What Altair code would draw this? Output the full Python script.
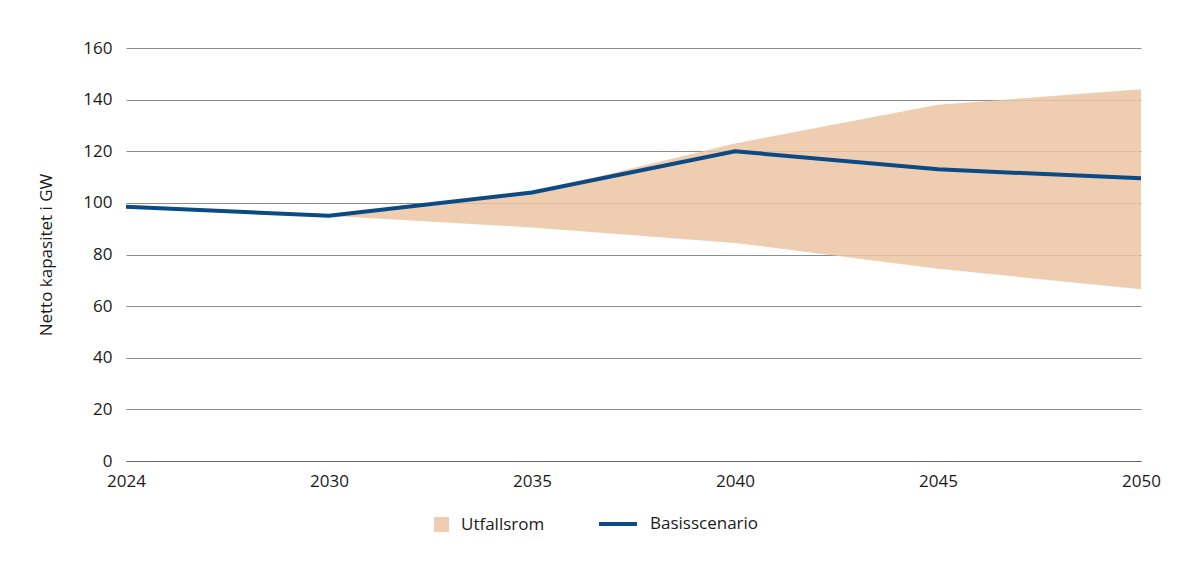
import altair as alt
import pandas as pd

years = ["2024", "2030", "2035", "2040", "2045", "2050"]
basis = [98.5, 95, 104, 120, 113, 109.5]
lower = [98.5, 95, 90.5, 84.5, 74.5, 66.5]
upper = [98.5, 95, 104, 123, 138, 144]
y_ticks = [0, 20, 40, 60, 80, 100, 120, 140, 160]

df = pd.DataFrame({
    "year": years,
    "basis": basis,
    "lower": lower,
    "upper": upper,
    "s1": ["Utfallsrom"] * len(years),
    "s2": ["Basisscenario"] * len(years),
})

FONT = "Open Sans"

x_enc = alt.X(
    "year:O",
    sort=years,
    scale=alt.Scale(type="point", padding=0),
    axis=alt.Axis(
        title=None, labelAngle=0, grid=False, ticks=False, domain=True,
        domainColor="#666666", labelFontSize=17, labelPadding=12,
        labelColor="#1a1a1a", labelFont=FONT,
    ),
)

y_scale = alt.Scale(domain=[0, 160], nice=False)
y_axis = alt.Axis(
    values=y_ticks, grid=True, gridColor="#8c8c8c", ticks=False, domain=False,
    labelFontSize=17, labelPadding=14, labelColor="#1a1a1a", labelFont=FONT,
    title="Netto kapasitet i GW", titleFontSize=17, titleFontWeight="normal",
    titleFont=FONT, titleColor="#1a1a1a", titlePadding=27,
)

area = alt.Chart(df).mark_area(opacity=0.85).encode(
    x=x_enc,
    y=alt.Y("lower:Q", scale=y_scale, axis=y_axis),
    y2="upper:Q",
    fill=alt.Fill(
        "s1:N",
        scale=alt.Scale(domain=["Utfallsrom"], range=["#ecc4a2"]),
        legend=alt.Legend(
            title=None, orient="none", legendX=307, legendY=468,
            symbolType="square", symbolSize=225, symbolStrokeWidth=0,
            labelFontSize=17, labelFont=FONT, labelColor="#1a1a1a",
            labelOffset=11, padding=0,
        ),
    ),
)

line = alt.Chart(df).mark_line(strokeWidth=4).encode(
    x=x_enc,
    y=alt.Y("basis:Q", scale=y_scale, axis=y_axis),
    stroke=alt.Stroke(
        "s2:N",
        scale=alt.Scale(domain=["Basisscenario"], range=["#0b4a85"]),
        legend=alt.Legend(
            title=None, orient="none", legendX=471, legendY=455,
            symbolType="stroke", symbolSize=1444, symbolStrokeWidth=4,
            labelFontSize=17, labelFont=FONT, labelColor="#1a1a1a",
            labelOffset=11, padding=0,
        ),
    ),
)

chart = alt.layer(area, line).resolve_scale(fill="independent", stroke="independent").properties(
    width=1015,
    height=413,
    autosize=alt.AutoSizeParams(type="none"),
    padding={"left": 118, "top": 40, "right": 49, "bottom": 99},
    background="white",
).configure_view(stroke=None)

chart.save("out.html", embed_options={"renderer": "svg", "actions": False})
